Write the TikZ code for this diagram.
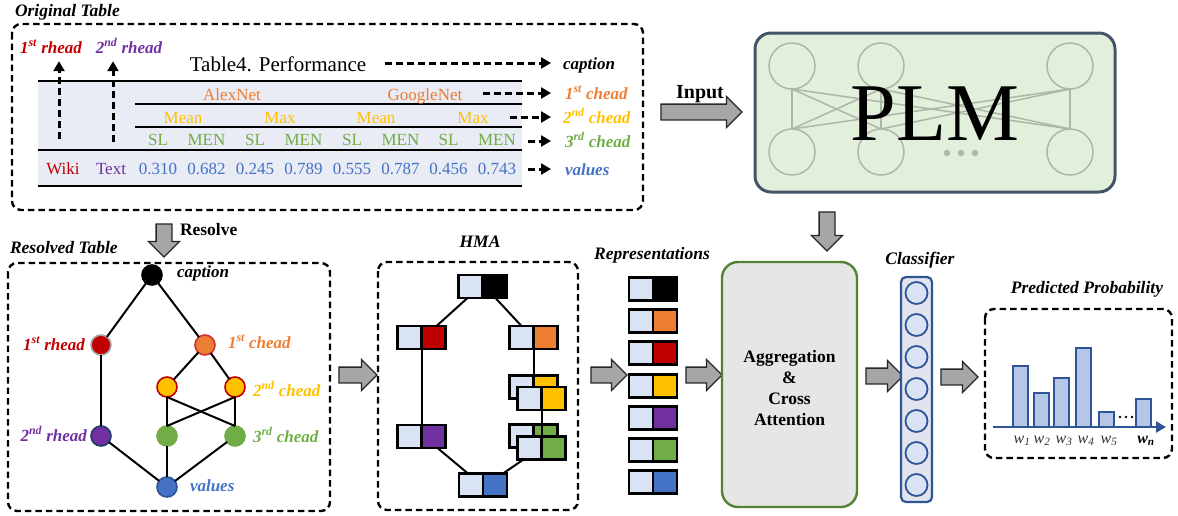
\documentclass[tikz,border=0pt]{standalone}
\usepackage{fontspec}
\setmainfont{Liberation Serif}
\usetikzlibrary{arrows.meta,shapes.arrows,calc}

\definecolor{cRed}{HTML}{C00000}
\definecolor{cOrange}{HTML}{ED7D31}
\definecolor{cYellow}{HTML}{FFC000}
\definecolor{cGreen}{HTML}{70AD47}
\definecolor{cPurple}{HTML}{7030A0}
\definecolor{cBlue}{HTML}{4472C4}
\definecolor{cNavy}{HTML}{2F5597}
\definecolor{cLight}{HTML}{DAE3F3}
\definecolor{tabBg}{HTML}{E9EBF5}
\definecolor{plmFill}{HTML}{E2EFDA}
\definecolor{plmEdge}{HTML}{44546A}
\definecolor{plmGray}{HTML}{AEB6A8}
\definecolor{aggFill}{HTML}{E7E6E6}
\definecolor{aggEdge}{HTML}{548235}
\definecolor{clsFill}{HTML}{E1E4EC}
\definecolor{barFill}{HTML}{B4C7E7}
\definecolor{arrFill}{HTML}{A6A6A6}

\pgfdeclarelayer{back}
\pgfdeclarelayer{mid}
\pgfsetlayers{back,mid,main}

% a token: light square on the left, coloured square on the right
\newcommand\tokpair[3]{%
  \node[tokl] (#1-l) at ($(#2)+(-12,0)$) {};
  \node[tokr, fill=#3] (#1-r) at ($(#2)+(12,0)$) {};
}

\begin{document}
\begin{tikzpicture}[x=1pt,y=-1pt,
  every node/.style={inner sep=0pt, outer sep=0pt},
  ttl/.style={font=\fontsize{17.5}{21}\selectfont\bfseries\itshape},
  lbl/.style={font=\fontsize{17}{20}\selectfont\bfseries\itshape},
  tab/.style={font=\fontsize{17}{20}\selectfont, anchor=base},
  dbox/.style={draw=black, line width=2.4pt, dash pattern=on 6.5pt off 4pt, rounded corners=9pt},
  darr/.style={line width=3pt, dash pattern=on 7pt off 4pt, -{Triangle[length=10pt,width=11pt]}},
  rule/.style={line width=2.2pt},
  garrow/.style={single arrow, draw=black!85, line width=1.3pt, fill=arrFill,
    inner xsep=0pt, inner ysep=7.25pt, single arrow head extend=7.5pt, single arrow head indent=0pt},
  tnode/.style={circle, minimum size=20pt, line width=1.6pt, draw},
  tedge/.style={line width=2pt},
  tokl/.style={draw=black, line width=2.4pt, fill=cLight, minimum width=24pt, minimum height=23pt},
  tokr/.style={draw=black, line width=2.4pt, minimum width=24pt, minimum height=23pt},
  hedge/.style={line width=2pt},
  pcirc/.style={circle, draw=plmGray, line width=1.5pt, minimum size=46pt},
  pline/.style={draw=plmGray, line width=1.5pt},
  ccirc/.style={circle, draw=cNavy, fill=cLight, line width=1.8pt, minimum size=22pt},
  bar/.style={draw=cNavy, fill=barFill, line width=2pt},
  wlab/.style={font=\fontsize{16}{18}\selectfont\itshape, text=black!80, anchor=base},
]
\useasboundingbox (0,0) rectangle (1178,515);

% ---------------- original table ----------------
\node[ttl, anchor=base west] (origTitle) at (15,16) {Original Table};
\draw[dbox] (12,24) rectangle (643,210);

\fill[tabBg] (38,81) rectangle (522,186);
\draw[rule] (38,81) -- (522,81);
\draw[rule] (135,104) -- (522,104);
\draw[rule] (135,127) -- (522,127);
\draw[rule, line width=2.8pt] (38,150) -- (522,150);
\draw[rule] (38,186) -- (522,186);

\node[tab, font=\fontsize{21}{24}\selectfont] (tabTitle) at (278,71) {Table4. Performance};
\node[tab, text=cOrange] (alex) at (232,100) {AlexNet};
\node[tab, text=cOrange] (google) at (425,100) {GoogleNet};
\node[tab, text=cYellow] (mean1) at (183,123) {Mean};
\node[tab, text=cYellow] (max1) at (280,123) {Max};
\node[tab, text=cYellow] (mean2) at (376,123) {Mean};
\node[tab, text=cYellow] (max2) at (473,123) {Max};
\foreach \x/\t [count=\i] in {158/SL,206.5/MEN,255/SL,303.5/MEN,352/SL,400.5/MEN,448.5/SL,497/MEN}
  \node[tab, text=cGreen] (met\i) at (\x,145) {\t};
\foreach \x/\t [count=\i] in {158/0.310,206.5/0.682,255/0.245,303.5/0.789,352/0.555,400.5/0.787,448.5/0.456,497/0.743}
  \node[tab, text=cBlue] (val\i) at (\x,174) {\t};
\node[tab, text=cRed] (wiki) at (63,174) {Wiki};
\node[tab, text=cPurple] (textCell) at (111,174) {Text};

% row header labels and their arrows
\node[lbl, text=cRed, anchor=base] (lR1) at (51,53) {1\textsuperscript{st} rhead};
\node[lbl, text=cPurple, anchor=base] (lR2) at (129,53) {2\textsuperscript{nd} rhead};
\coordinate (sR1) at (59,139);
\coordinate (sR2) at (113,142);
\draw[darr, shorten >=8pt] (sR1) -- (sR1 |- lR1.south);
\draw[darr, shorten >=8pt] (sR2) -- (sR2 |- lR2.south);

% column labels and their arrows
\node[lbl, anchor=base west] (lCap) at (563,69) {caption};
\node[lbl, text=cOrange, anchor=base west] (lC1) at (565,99) {1\textsuperscript{st} chead};
\node[lbl, text=cYellow, anchor=base west] (lC2) at (563,123) {2\textsuperscript{nd} chead};
\node[lbl, text=cGreen, anchor=base west] (lC3) at (565,147) {3\textsuperscript{rd} chead};
\node[lbl, text=cBlue, anchor=base west] (lVal) at (565,175) {values};
\coordinate (sCap) at (385,63);
\coordinate (sC1) at (483,93);
\coordinate (sC2) at (510,117);
\coordinate (sC3) at (528,141);
\coordinate (sVal) at (528,169);
\draw[darr, shorten >=12pt] (sCap) -- (sCap -| lCap.west);
\draw[darr, shorten >=14pt] (sC1) -- (sC1 -| lC1.west);
\draw[darr, shorten >=12pt] (sC2) -- (sC2 -| lC2.west);
\draw[darr, shorten >=14pt] (sC3) -- (sC3 -| lC3.west);
\draw[darr, shorten >=14pt] (sVal) -- (sVal -| lVal.west);

% ---------------- PLM ----------------
\node[garrow, minimum height=81pt] (inArr) at (697.5,112) {};
\node[font=\fontsize{20}{24}\selectfont\bfseries, anchor=base] (inLbl) at (700,98) {Input};

\draw[line width=3pt, draw=plmEdge, fill=plmFill, rounded corners=16pt] (755,33) rectangle (1115,192);
\node[pcirc] (p11) at (792,66) {};
\node[pcirc] (p12) at (881,66) {};
\node[pcirc] (p13) at (1070,66) {};
\node[pcirc] (p21) at (792,152) {};
\node[pcirc] (p22) at (881,152) {};
\node[pcirc] (p23) at (1070,152) {};
\foreach \a in {1,2,3}
  \foreach \b in {1,2,3}
    \draw[pline] (p1\a.south) -- (p2\b.north);
\foreach \x in {947,961,975}
  \fill[plmGray] (\x,153) circle (3.2pt);
\node[font=\fontsize{82}{82}\selectfont, anchor=base] (plm) at (935,140) {PLM};

\node[garrow, minimum height=39pt, rotate=-90] (plmDown) at (827,227.5) {};

% ---------------- resolved table ----------------
\node[garrow, minimum height=33pt, rotate=-90] (resArr) at (164,236.5) {};
\node[font=\fontsize{17.5}{21}\selectfont\bfseries, anchor=base west] (resLbl) at (180,235) {Resolve};
\node[ttl, anchor=base west] (resTitle) at (10,253) {Resolved Table};
\draw[dbox] (8,263) rectangle (330,511);

\node[tnode, fill=black] (tCap) at (152,275) {};
\node[tnode, fill=cRed, draw=black!35] (tR1) at (101,345) {};
\node[tnode, fill=cOrange, draw=cRed!80] (tC1) at (205,345) {};
\node[tnode, fill=cYellow, draw=cRed] (tC2a) at (167,387) {};
\node[tnode, fill=cYellow, draw=cRed] (tC2b) at (235,387) {};
\node[tnode, fill=cPurple, draw=cNavy!70!black] (tR2) at (101,436) {};
\node[tnode, fill=cGreen, draw=cGreen] (tC3a) at (167,436) {};
\node[tnode, fill=cGreen, draw=cGreen] (tC3b) at (235,436) {};
\node[tnode, fill=cBlue, draw=cNavy] (tVal) at (167,487) {};

\draw[tedge] (tCap) -- (tR1);
\draw[tedge] (tCap) -- (tC1);
\draw[tedge] (tR1) -- (tR2);
\draw[tedge] (tC1) -- (tC2a);
\draw[tedge] (tC1) -- (tC2b);
\draw[tedge] (tC2a.south) -- (tC3a.north);
\draw[tedge] (tC2a.south) -- (tC3b.north);
\draw[tedge] (tC2b.south) -- (tC3a.north);
\draw[tedge] (tC2b.south) -- (tC3b.north);
\draw[tedge] (tR2) -- (tVal);
\draw[tedge] (tC3a) -- (tVal);
\draw[tedge] (tC3b) -- (tVal);

\node[lbl, anchor=base west] (ltCap) at (177,277) {caption};
\node[lbl, text=cRed, anchor=base east] (ltR1) at (85,350) {1\textsuperscript{st} rhead};
\node[lbl, text=cOrange, anchor=base west] (ltC1) at (228,348) {1\textsuperscript{st} chead};
\node[lbl, text=cYellow, anchor=base west] (ltC2) at (253,396) {2\textsuperscript{nd} chead};
\node[lbl, text=cPurple, anchor=base east] (ltR2) at (87,441) {2\textsuperscript{nd} rhead};
\node[lbl, text=cGreen, anchor=base west] (ltC3) at (253,442) {3\textsuperscript{rd} chead};
\node[lbl, text=cBlue, anchor=base west] (ltVal) at (190,491) {values};

\node[garrow, minimum height=38pt] (a1) at (354,375) {};

% ---------------- HMA ----------------
\node[ttl, anchor=base] (hmaTitle) at (480,247) {HMA};
\draw[dbox] (378,262) rectangle (578,510);

\begin{pgfonlayer}{back}
\tokpair{hY1}{533.5,387}{cYellow}
\tokpair{hG1}{533.5,436}{cGreen}
\end{pgfonlayer}
\tokpair{hTop}{482.5,286.5}{black}
\tokpair{hRed}{421.5,337.5}{cRed}
\tokpair{hOr}{533.5,337.5}{cOrange}
\tokpair{hY2}{541.5,398.5}{cYellow}
\tokpair{hPu}{421.5,436.5}{cPurple}
\tokpair{hG2}{541.5,448}{cGreen}
\tokpair{hBl}{483,485}{cBlue}

\begin{pgfonlayer}{mid}
\draw[hedge] ($(hTop-l.south)+(-3,0)$) -- ($(hRed-r.north)+(3,0)$);
\draw[hedge] ($(hTop-r.south)+(1,0)$) -- (hOr-l.north);
\draw[hedge] (hRed-l.south east) -- (hPu-l.north east);
\draw[hedge] (hOr-l.south east) -- (hY1-l.south east);
\draw[hedge] (hY2-l.south east) -- (hG2-l.north east);
\draw[hedge] ($(hPu-r.south)+(4,0)$) -- ($(hBl-l.north)+(-3,0)$);
\draw[hedge] ($(hG2-l.south)+(-6,0)$) -- ($(hBl-r.north)+(8,0)$);
\end{pgfonlayer}

\node[garrow, minimum height=36pt] (a2) at (605,375) {};

% ---------------- representations ----------------
\node[ttl, anchor=base] (repTitle) at (652,259) {Representations};
\tokpair{r1}{653,289}{black}
\tokpair{r2}{653,321}{cOrange}
\tokpair{r3}{653,353}{cRed}
\tokpair{r4}{653,386}{cYellow}
\tokpair{r5}{653,418}{cPurple}
\tokpair{r6}{653,450}{cGreen}
\tokpair{r7}{653,482}{cBlue}

\node[garrow, minimum height=36pt] (a3) at (700,375) {};

% ---------------- aggregation ----------------
\draw[line width=2.4pt, draw=aggEdge, fill=aggFill, rounded corners=16pt] (722,262) rectangle (857,507);
\node[font=\fontsize{17.5}{21.3}\selectfont\bfseries, align=center] (agg) at (789.5,388)
  {Aggregation\\\&\\Cross\\Attention};

\node[garrow, minimum height=37pt] (a4) at (880.5,376) {};

% ---------------- classifier ----------------
\node[ttl, anchor=base] (clsTitle) at (920,264) {Classifier};
\draw[line width=2.2pt, draw=cNavy, fill=clsFill, rounded corners=5pt] (901,277) rectangle (932,502);
\foreach \y [count=\i] in {293,325,357,389,421,453,485}
  \node[ccirc] (cl\i) at (916.5,\y) {};

\node[garrow, minimum height=37pt] (a5) at (955.5,377) {};

% ---------------- predicted probability ----------------
\node[ttl, anchor=base] (predTitle) at (1087,293) {Predicted Probability};
\draw[dbox] (985,309) rectangle (1172,458);
\draw[bar] (1013,427) rectangle (1028,366);
\draw[bar] (1034,427) rectangle (1049,393);
\draw[bar] (1054,427) rectangle (1069,378);
\draw[bar] (1076,427) rectangle (1091,348);
\draw[bar] (1099,427) rectangle (1114,412);
\draw[bar] (1136,427) rectangle (1151,399);
\coordinate (axL) at (993,427);
\coordinate (axR) at (1166,427);
\draw[line width=2.8pt, draw=cNavy, -{Triangle[length=10pt,width=11pt]}] (axL) -- (axR);
\foreach \x in {1120,1126,1132}
  \fill (\x,417) circle (1.4pt);
\node[wlab] (w1) at (1022,443) {w\textsubscript{1}};
\node[wlab] (w2) at (1042,443) {w\textsubscript{2}};
\node[wlab] (w3) at (1064,443) {w\textsubscript{3}};
\node[wlab] (w4) at (1086,443) {w\textsubscript{4}};
\node[wlab] (w5) at (1109,443) {w\textsubscript{5}};
\node[wlab, text=black, font=\fontsize{16}{18}\selectfont\bfseries\itshape] (wn) at (1146,443) {w\textsubscript{n}};
\end{tikzpicture}
\end{document}
